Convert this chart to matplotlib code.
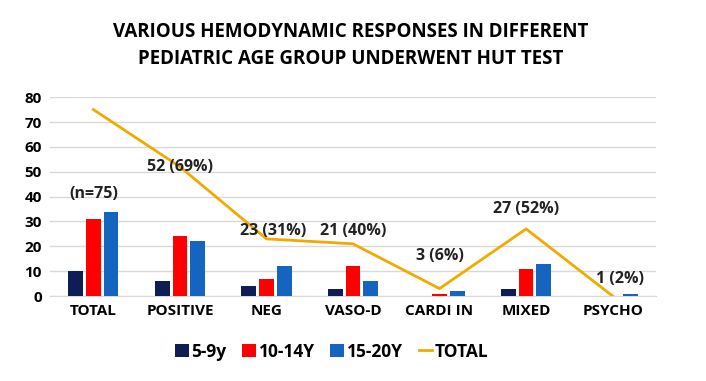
import numpy as np
import matplotlib.pyplot as plt

plt.rcParams['font.family'] = ['Open Sans', 'DejaVu Sans']
plt.rcParams['font.weight'] = 'bold'

categories = ['TOTAL', 'POSITIVE', 'NEG', 'VASO-D', 'CARDI IN', 'MIXED', 'PSYCHO']
age_5_9 = [10, 6, 4, 3, 0, 3, 0]
age_10_14 = [31, 24, 7, 12, 1, 11, 0]
age_15_20 = [34, 22, 12, 6, 2, 13, 1]
total = [75, 52, 23, 21, 3, 27, 0]
labels = ['(n=75)', '52 (69%)', '23 (31%)', '21 (40%)', '3 (6%)', '27 (52%)', '1 (2%)']
label_y = [41, 52, 26, 26, 16, 35, 7]

x = np.arange(len(categories))
w = 0.17
step = 0.205

fig = plt.figure(figsize=(7.06, 3.81), dpi=100)
ax = fig.add_axes([0.071, 0.223, 0.858, 0.522])

b1 = ax.bar(x - step, age_5_9, w, color='#0E1E55', label='5-9y', zorder=3)
b2 = ax.bar(x, age_10_14, w, color='#FF0000', label='10-14Y', zorder=3)
b3 = ax.bar(x + step, age_15_20, w, color='#1565C0', label='15-20Y', zorder=3)
ln, = ax.plot(x, total, color='#F2A900', lw=2, label='TOTAL', zorder=4)

for i, t in enumerate(labels):
    ax.text(x[i] + (0.08 if i in (2, 6) else 0), label_y[i], t, ha='center', va='center',
            fontsize=11.5, fontweight='bold', color='#222222', zorder=5)

ax.set_xlim(-0.5, len(categories) - 0.5)
ax.set_ylim(0, 80)
ax.set_yticks(range(0, 81, 10))
ax.set_xticks(x)
ax.set_xticklabels(categories)
ax.tick_params(axis='both', length=0, labelsize=11, pad=6)
ax.grid(axis='y', color='#D9D9D9', lw=1, zorder=0)
for s in ['top', 'right', 'left']:
    ax.spines[s].set_visible(False)
ax.spines['bottom'].set_color('#D9D9D9')

fig.text(0.497, 0.88, 'VARIOUS HEMODYNAMIC RESPONSES IN DIFFERENT\nPEDIATRIC AGE GROUP UNDERWENT HUT TEST',
         ha='center', va='center', fontsize=13.5, fontweight='bold', linespacing=1.45)

fig.legend([b1, b2, b3, ln], ['5-9y', '10-14Y', '15-20Y', 'TOTAL'], loc='center',
           bbox_to_anchor=(0.47, 0.077), ncol=4, frameon=False, fontsize=12.5,
           handlelength=0.8, handleheight=0.8, handletextpad=0.15, columnspacing=0.9)

fig.savefig('out.png', dpi=100)
